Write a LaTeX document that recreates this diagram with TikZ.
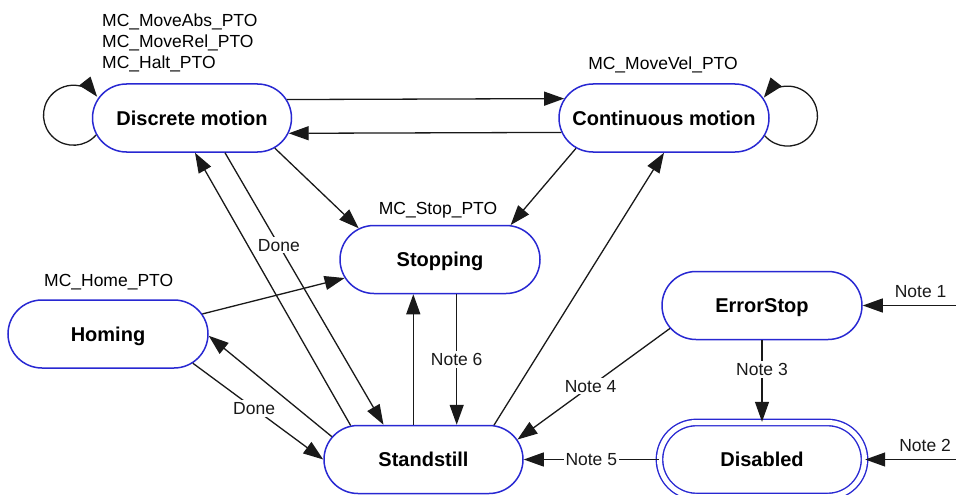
\documentclass[tikz,border=0pt]{standalone}
\usepackage{fontspec}
\setmainfont{Liberation Sans}
\usetikzlibrary{shapes.misc,arrows.meta}
\definecolor{stateblue}{RGB}{40,40,210}
\definecolor{edgegray}{RGB}{25,25,25}
\tikzset{
  % --- states ----------------------------------------------------------------
  state/.style={rounded rectangle,draw=stateblue,line width=1.5pt,fill=white,
                minimum width=200pt,minimum height=68pt,inner sep=0pt,
                font=\fontsize{20}{24}\selectfont\bfseries,
                text height=14.3pt,text depth=0pt},
  finalstate/.style={state,double=white,double distance=5pt,line width=1.4pt,
                     minimum width=205pt,minimum height=74pt},
  % --- transitions -----------------------------------------------------------
  trans/.style={-{Triangle[length=20pt,width=14pt]},edgegray,line width=1.3pt},
  cmd/.style={font=\fontsize{17.5}{21}\selectfont,inner sep=0pt},
  tlab/.style={font=\fontsize{17.5}{21}\selectfont,fill=white,inner sep=2pt},
  tlabup/.style={tlab,fill=none,above=5pt},
}

\begin{document}
\begin{tikzpicture}[x=1pt,y=1pt]
  \useasboundingbox (0,0) rectangle (956,-495);

  % states
  \node[state,minimum width=199pt] (dm) at (192,-118)     {Discrete motion};
  \node[state,minimum width=210pt] (cm) at (664,-118)     {Continuous motion};
  \node[state]                     (st) at (440,-259.5)   {Stopping};
  \node[state]                     (hm) at (108,-334)     {Homing};
  \node[state,minimum width=199pt] (ss) at (423.5,-459.5) {Standstill};
  \node[state]                     (es) at (762,-305.5)   {ErrorStop};
  \node[finalstate]                (di) at (762,-459.5)   {Disabled};

  % function blocks written beside their state
  \node[cmd,align=left,anchor=west] (cmddm) at (102,-42.9)
       {MC\_MoveAbs\_PTO\\MC\_MoveRel\_PTO\\MC\_Halt\_PTO};
  \node[cmd,anchor=base] (cmdcm) at (663,-69.6)   {MC\_MoveVel\_PTO};
  \node[cmd,anchor=base] (cmdst) at (438,-214.6)  {MC\_Stop\_PTO};
  \node[cmd,anchor=base] (cmdhm) at (108.7,-286.3) {MC\_Home\_PTO};

  % inputs coming from outside the picture
  \coordinate (in1) at (956,-305.5);
  \coordinate (in2) at (956,-459.5);

  % self loops
  \draw[trans] (dm.190) arc[start angle=-41,end angle=-322,radius=30];
  \draw[trans] (cm.350) arc[start angle=221,end angle=502,radius=30];

  % motion states
  \draw[trans] (dm.11)  -- (cm.169);
  \draw[trans] (cm.188) -- (dm.-9);
  \draw[trans] (dm.-20) -- (st.159);
  \draw[trans] (cm.199) -- (st.26);
  \draw[trans] (hm.12)  -- (st.191);

  % to and from standstill
  \draw[trans] ([xshift=16.7pt]st.south) -- node[tlab] {Note 6} ([xshift=33.2pt]ss.north);
  \draw[trans] ([xshift=-10.2pt]ss.north) -- ([xshift=-26.7pt]st.south);
  \draw[trans] (ss.166) -- (hm.-1);
  \draw[trans] (hm.-19) -- node[tlab,pos=0.47] {Done} (ss.west);
  \draw[trans] (ss.155) -- ([xshift=3pt]dm.south);
  \draw[trans] ([xshift=33pt]dm.south) -- node[tlab,pos=0.34] {Done} ([xshift=-40pt]ss.north);
  \draw[trans] (ss.26) -- (cm.south);

  % error handling
  \draw[trans] (es.194) -- node[tlab,pos=0.52] {Note 4} (ss.12);
  \draw[trans] (es.south) -- node[tlab,pos=0.36] {Note 3} (di.north);
  \draw[trans] (di.west) -- node[tlab] {Note 5} (ss.east);
  \draw[trans] (in1) -- node[tlabup,pos=0.38] {Note 1} (es.east);
  \draw[trans] (in2) -- node[tlabup,pos=0.34] {Note 2} (di.east);
\end{tikzpicture}
\end{document}
